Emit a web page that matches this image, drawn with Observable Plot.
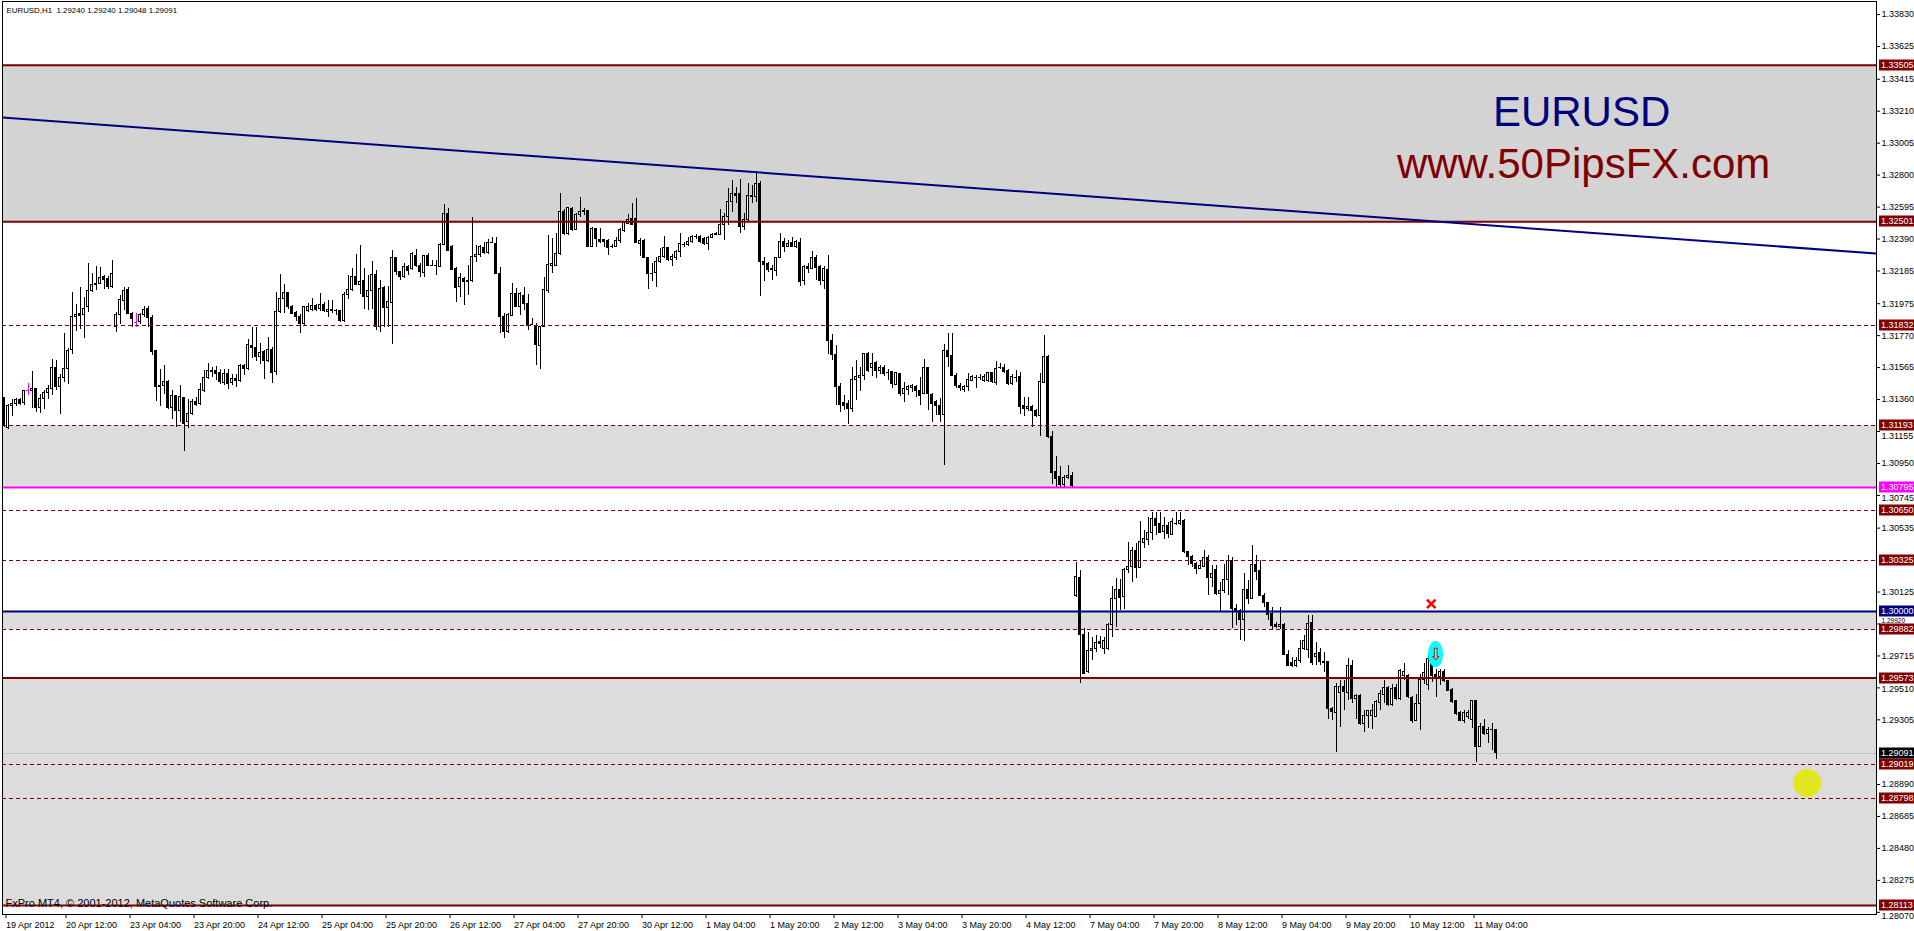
<!DOCTYPE html>
<html><head><meta charset="utf-8">
<script src="https://cdn.jsdelivr.net/npm/d3@7"></script>
<script src="https://cdn.jsdelivr.net/npm/@observablehq/plot@0.6"></script>
<style>html,body{margin:0;padding:0;background:#fff;overflow:hidden}svg{display:block}</style>
</head><body><div id="chart"></div>
<script>
// ---- EURUSD H1 candles (bar index 0 = first visible bar, 19 Apr 2012) ----
const opens = [1.31369,1.31175,1.31316,1.31329,1.31359,1.31335,1.31417,1.31412,1.31427,1.31309,
1.31363,1.31399,1.31427,1.31562,1.31438,1.31498,1.31556,1.31678,1.31887,1.31909,
1.31902,1.31951,1.32054,1.32093,1.32101,1.32144,1.32133,1.32080,1.31823,1.31904,
1.31994,1.32063,1.31909,1.31855,1.31855,1.31904,1.31941,1.31883,1.31669,1.31448,
1.31444,1.31474,1.31303,1.31384,1.31284,1.31369,1.31219,1.31267,1.31346,1.31331,
1.31417,1.31496,1.31545,1.31545,1.31530,1.31466,1.31523,1.31466,1.31491,1.31476,
1.31573,1.31556,1.31706,1.31690,1.31630,1.31663,1.31605,1.31678,1.31534,1.31919,
1.32005,1.32043,1.31956,1.31915,1.31887,1.31844,1.31926,1.31934,1.31962,1.31941,
1.31969,1.31919,1.31934,1.31930,1.31930,1.31862,1.32033,1.32063,1.32148,1.32097,
1.32118,1.32016,1.32058,1.32161,1.31823,1.32073,1.31950,1.31977,1.32268,1.32176,
1.32145,1.32209,1.32198,1.32284,1.32220,1.32170,1.32284,1.32220,1.32220,1.32213,
1.32352,1.32551,1.32342,1.32198,1.32081,1.32134,1.32123,1.32119,1.32273,1.32288,
1.32333,1.32299,1.32365,1.32359,1.32166,1.31892,1.31792,1.31899,1.32038,1.31957,
1.32027,1.31974,1.31839,1.31835,1.31702,1.31824,1.32059,1.32220,1.32220,1.32295,
1.32566,1.32423,1.32583,1.32449,1.32547,1.32562,1.32573,1.32342,1.32455,1.32385,
1.32385,1.32380,1.32342,1.32342,1.32376,1.32444,1.32487,1.32519,1.32519,1.32355,
1.32380,1.32269,1.32170,1.32170,1.32241,1.32273,1.32333,1.32256,1.32269,1.32305,
1.32352,1.32352,1.32369,1.32406,1.32406,1.32391,1.32359,1.32397,1.32419,1.32419,
1.32483,1.32530,1.32626,1.32676,1.32676,1.32470,1.32509,1.32663,1.32658,1.32744,
1.32241,1.32230,1.32192,1.32188,1.32269,1.32374,1.32342,1.32363,1.32337,1.32365,
1.32119,1.32213,1.32198,1.32269,1.32213,1.32123,1.32192,1.31738,1.31648,1.31443,
1.31336,1.31332,1.31300,1.31486,1.31499,1.31509,1.31653,1.31563,1.31593,1.31541,
1.31563,1.31535,1.31535,1.31456,1.31524,1.31396,1.31424,1.31434,1.31443,1.31413,
1.31396,1.31563,1.31392,1.31342,1.31321,1.31263,1.31674,1.31642,1.31509,1.31449,
1.31422,1.31439,1.31482,1.31503,1.31503,1.31482,1.31482,1.31528,1.31464,1.31563,
1.31563,1.31541,1.31460,1.31503,1.31507,1.31321,1.31300,1.31315,1.31289,1.31257,
1.31464,1.31635,1.31122,1.30893,1.30865,1.30814,1.30857,1.30872,1.30102,1.30215,
1.29852,1.29610,1.29745,1.29760,1.29802,1.29760,1.29760,1.29916,1.30081,1.30138,
1.30091,1.30267,1.30288,1.30387,1.30280,1.30438,1.30459,1.30502,1.30594,1.30562,
1.30509,1.30551,1.30494,1.30566,1.30562,1.30579,1.30380,1.30352,1.30305,1.30273,
1.30288,1.30344,1.30215,1.30267,1.30113,1.30134,1.30203,1.30322,1.30016,1.30001,
1.29946,1.30138,1.30081,1.30301,1.30258,1.30102,1.30053,1.29984,1.29916,1.29899,
1.29916,1.29723,1.29668,1.29653,1.29680,1.29760,1.29753,1.29924,1.29706,1.29732,
1.29674,1.29674,1.29374,1.29346,1.29475,1.29513,1.29475,1.29653,1.29438,1.29460,
1.29278,1.29332,1.29332,1.29325,1.29411,1.29466,1.29509,1.29402,1.29509,1.29438,
1.29588,1.29588,1.29445,1.29300,1.29406,1.29560,1.29531,1.29696,1.29595,1.29578,
1.29610,1.29556,1.29496,1.29424,1.29346,1.29300,1.29325,1.29304,1.29424,1.29132,
1.29261,1.29214,1.29240,1.29240];
const highs = [1.31374,1.31331,1.31363,1.31369,1.31369,1.31421,1.31466,1.31538,1.31431,1.31395,
1.31417,1.31448,1.31620,1.31609,1.31523,1.31785,1.31690,1.32048,1.31973,1.32080,
1.32016,1.32234,1.32170,1.32212,1.32208,1.32155,1.32148,1.32251,1.31919,1.32026,
1.32076,1.32080,1.31919,1.31915,1.31913,1.31958,1.31958,1.31898,1.31673,1.31556,
1.31577,1.31481,1.31417,1.31384,1.31453,1.31369,1.31363,1.31363,1.31374,1.31463,
1.31549,1.31592,1.31566,1.31571,1.31556,1.31556,1.31556,1.31523,1.31523,1.31583,
1.31583,1.31748,1.31823,1.31823,1.31722,1.31673,1.31759,1.31695,1.32048,1.32165,
1.32097,1.32048,1.31962,1.31926,1.31904,1.31958,1.31977,1.32011,1.31973,1.32043,
1.31984,1.31994,1.31994,1.31941,1.31934,1.32048,1.32155,1.32204,1.32290,1.32347,
1.32204,1.32155,1.32247,1.32187,1.32123,1.32084,1.32084,1.32315,1.32272,1.32181,
1.32230,1.32220,1.32305,1.32320,1.32235,1.32284,1.32295,1.32252,1.32252,1.32359,
1.32611,1.32584,1.32348,1.32209,1.32166,1.32145,1.32220,1.32526,1.32348,1.32348,
1.32369,1.32384,1.32397,1.32397,1.32209,1.31909,1.31909,1.32106,1.32070,1.32049,
1.32076,1.32034,1.31877,1.31850,1.31828,1.32145,1.32412,1.32391,1.32423,1.32680,
1.32577,1.32594,1.32594,1.32551,1.32654,1.32588,1.32573,1.32461,1.32460,1.32455,
1.32385,1.32385,1.32355,1.32397,1.32455,1.32504,1.32545,1.32620,1.32648,1.32391,
1.32385,1.32273,1.32230,1.32273,1.32327,1.32406,1.32337,1.32290,1.32316,1.32423,
1.32369,1.32397,1.32412,1.32419,1.32412,1.32397,1.32406,1.32427,1.32434,1.32577,
1.32551,1.32712,1.32765,1.32723,1.32770,1.32551,1.32744,1.32733,1.32825,1.32760,
1.32269,1.32241,1.32220,1.32273,1.32427,1.32391,1.32380,1.32397,1.32380,1.32391,
1.32220,1.32230,1.32312,1.32284,1.32220,1.32213,1.32284,1.31777,1.31706,1.31460,
1.31385,1.31357,1.31567,1.31610,1.31563,1.31657,1.31663,1.31657,1.31606,1.31578,
1.31578,1.31550,1.31541,1.31535,1.31528,1.31471,1.31449,1.31456,1.31449,1.31499,
1.31614,1.31567,1.31396,1.31357,1.31364,1.31713,1.31785,1.31785,1.31524,1.31464,
1.31449,1.31524,1.31514,1.31514,1.31520,1.31520,1.31535,1.31535,1.31606,1.31593,
1.31588,1.31556,1.31520,1.31546,1.31535,1.31374,1.31374,1.31321,1.31293,1.31528,
1.31770,1.31642,1.31156,1.30994,1.30929,1.30872,1.30936,1.30893,1.30316,1.30262,
1.29888,1.29867,1.29835,1.29845,1.29839,1.29835,1.29924,1.30160,1.30215,1.30203,
1.30273,1.30444,1.30412,1.30434,1.30579,1.30519,1.30601,1.30637,1.30637,1.30637,
1.30605,1.30573,1.30594,1.30637,1.30637,1.30588,1.30387,1.30359,1.30316,1.30327,
1.30391,1.30359,1.30295,1.30295,1.30188,1.30301,1.30359,1.30348,1.30048,1.30016,
1.30241,1.30198,1.30423,1.30359,1.30327,1.30117,1.30059,1.30027,1.29931,1.30027,
1.29924,1.29753,1.29706,1.29706,1.29817,1.29845,1.29974,1.29974,1.29802,1.29760,
1.29738,1.29674,1.29385,1.29539,1.29560,1.29560,1.29696,1.29685,1.29470,1.29466,
1.29364,1.29368,1.29406,1.29428,1.29496,1.29556,1.29518,1.29530,1.29530,1.29625,
1.29668,1.29599,1.29453,1.29470,1.29599,1.29668,1.29728,1.29781,1.29631,1.29631,
1.29625,1.29560,1.29509,1.29432,1.29359,1.29368,1.29364,1.29428,1.29428,1.29282,
1.29304,1.29257,1.29282,1.29240];
const lows = [1.31181,1.31170,1.31249,1.31314,1.31320,1.31320,1.31389,1.31305,1.31277,1.31271,
1.31299,1.31359,1.31384,1.31417,1.31262,1.31470,1.31459,1.31652,1.31797,1.31812,
1.31752,1.31919,1.32048,1.32058,1.32097,1.32069,1.32069,1.32075,1.31791,1.31844,
1.31930,1.31904,1.31823,1.31823,1.31844,1.31887,1.31823,1.31641,1.31348,1.31314,
1.31395,1.31299,1.31235,1.31181,1.31213,1.31027,1.31177,1.31256,1.31314,1.31320,
1.31406,1.31491,1.31502,1.31481,1.31459,1.31448,1.31427,1.31448,1.31438,1.31470,
1.31513,1.31545,1.31626,1.31605,1.31583,1.31491,1.31598,1.31463,1.31513,1.31909,
1.31909,1.31941,1.31904,1.31862,1.31785,1.31834,1.31917,1.31926,1.31926,1.31926,
1.31919,1.31887,1.31913,1.31898,1.31855,1.31855,1.32005,1.32054,1.32091,1.32037,
1.31941,1.31934,1.31941,1.31802,1.31791,1.31823,1.31823,1.31716,1.32155,1.32127,
1.32134,1.32155,1.32188,1.32205,1.32145,1.32145,1.32213,1.32213,1.32155,1.32205,
1.32348,1.32312,1.32188,1.31984,1.32016,1.31963,1.32027,1.32113,1.32241,1.32273,
1.32290,1.32290,1.32359,1.32162,1.31785,1.31749,1.31785,1.31892,1.31952,1.31899,
1.31931,1.31802,1.31835,1.31578,1.31556,1.31820,1.32042,1.32166,1.32220,1.32284,
1.32412,1.32412,1.32440,1.32444,1.32530,1.32541,1.32337,1.32337,1.32337,1.32359,
1.32337,1.32284,1.32327,1.32333,1.32363,1.32434,1.32483,1.32477,1.32359,1.32278,
1.32263,1.32063,1.32119,1.32076,1.32235,1.32263,1.32248,1.32213,1.32252,1.32273,
1.32337,1.32342,1.32363,1.32385,1.32359,1.32348,1.32316,1.32391,1.32412,1.32412,
1.32380,1.32477,1.32562,1.32616,1.32423,1.32444,1.32504,1.32620,1.32626,1.32021,
1.32119,1.32177,1.32123,1.32149,1.32263,1.32305,1.32337,1.32333,1.32327,1.32085,
1.32091,1.32170,1.32192,1.32123,1.32091,1.32063,1.31648,1.31610,1.31321,1.31278,
1.31289,1.31199,1.31278,1.31353,1.31413,1.31482,1.31535,1.31507,1.31496,1.31520,
1.31507,1.31482,1.31434,1.31449,1.31379,1.31342,1.31385,1.31407,1.31370,1.31321,
1.31392,1.31289,1.31214,1.31257,1.31214,1.30936,1.31567,1.31507,1.31428,1.31413,
1.31407,1.31413,1.31477,1.31428,1.31482,1.31471,1.31471,1.31460,1.31449,1.31550,
1.31524,1.31449,1.31449,1.31471,1.31263,1.31250,1.31285,1.31182,1.31246,1.31122,
1.31460,1.31113,1.30812,1.30797,1.30792,1.30797,1.30844,1.30792,1.30091,1.29535,
1.29595,1.29603,1.29685,1.29738,1.29760,1.29723,1.29753,1.29834,1.29899,1.30006,
1.30016,1.30245,1.30188,1.30209,1.30273,1.30402,1.30423,1.30455,1.30487,1.30498,
1.30459,1.30466,1.30487,1.30551,1.30551,1.30374,1.30295,1.30280,1.30237,1.30267,
1.30280,1.30102,1.30155,1.30102,1.30002,1.30113,1.30102,1.29888,1.29909,1.29817,
1.29809,1.30044,1.30074,1.30198,1.30096,1.30027,1.29942,1.29877,1.29888,1.29882,
1.29717,1.29646,1.29642,1.29638,1.29668,1.29749,1.29696,1.29653,1.29653,1.29653,
1.29610,1.29310,1.29299,1.29096,1.29257,1.29364,1.29428,1.29411,1.29310,1.29268,
1.29225,1.29252,1.29240,1.29317,1.29364,1.29411,1.29389,1.29389,1.29432,1.29432,
1.29556,1.29445,1.29282,1.29295,1.29235,1.29531,1.29492,1.29546,1.29449,1.29524,
1.29546,1.29488,1.29411,1.29332,1.29295,1.29282,1.29304,1.29252,1.29032,1.29128,
1.29203,1.29150,1.29111,1.29048];
const closes = [1.31192,1.31320,1.31331,1.31359,1.31331,1.31417,1.31417,1.31427,1.31309,1.31363,
1.31401,1.31427,1.31562,1.31442,1.31498,1.31556,1.31673,1.31891,1.31904,1.31894,
1.31941,1.32058,1.32095,1.32101,1.32140,1.32129,1.32080,1.32165,1.31904,1.31998,
1.32058,1.31909,1.31877,1.31855,1.31904,1.31936,1.31883,1.31663,1.31438,1.31438,
1.31474,1.31303,1.31384,1.31284,1.31378,1.31202,1.31267,1.31346,1.31327,1.31421,
1.31498,1.31541,1.31534,1.31523,1.31470,1.31523,1.31463,1.31491,1.31476,1.31577,
1.31556,1.31712,1.31690,1.31630,1.31658,1.31605,1.31678,1.31530,1.31919,1.32005,
1.32043,1.31951,1.31909,1.31887,1.31844,1.31951,1.31951,1.31962,1.31934,1.31969,
1.31926,1.31934,1.31926,1.31926,1.31866,1.32033,1.32063,1.32148,1.32097,1.32112,
1.32016,1.32058,1.32161,1.31823,1.32069,1.31950,1.31984,1.32268,1.32176,1.32145,
1.32213,1.32183,1.32295,1.32220,1.32177,1.32284,1.32220,1.32220,1.32220,1.32352,
1.32551,1.32316,1.32194,1.32076,1.32140,1.32113,1.32113,1.32273,1.32288,1.32337,
1.32299,1.32365,1.32365,1.32166,1.31888,1.31792,1.31905,1.32038,1.31957,1.32038,
1.31974,1.31835,1.31839,1.31710,1.31824,1.32063,1.32224,1.32230,1.32295,1.32566,
1.32423,1.32588,1.32449,1.32547,1.32562,1.32573,1.32342,1.32455,1.32391,1.32370,
1.32370,1.32333,1.32342,1.32380,1.32449,1.32491,1.32509,1.32483,1.32363,1.32380,
1.32269,1.32166,1.32170,1.32241,1.32273,1.32333,1.32256,1.32273,1.32305,1.32359,
1.32352,1.32369,1.32402,1.32406,1.32369,1.32359,1.32397,1.32419,1.32423,1.32483,
1.32534,1.32626,1.32676,1.32668,1.32470,1.32513,1.32663,1.32658,1.32744,1.32241,
1.32226,1.32192,1.32198,1.32269,1.32374,1.32342,1.32359,1.32337,1.32369,1.32113,
1.32213,1.32198,1.32269,1.32205,1.32123,1.32198,1.31734,1.31648,1.31439,1.31327,
1.31321,1.31300,1.31486,1.31503,1.31514,1.31653,1.31546,1.31588,1.31541,1.31563,
1.31524,1.31535,1.31460,1.31528,1.31396,1.31428,1.31439,1.31449,1.31413,1.31385,
1.31563,1.31396,1.31332,1.31321,1.31263,1.31674,1.31635,1.31509,1.31449,1.31434,
1.31443,1.31486,1.31507,1.31503,1.31503,1.31507,1.31528,1.31471,1.31556,1.31563,
1.31535,1.31460,1.31507,1.31503,1.31315,1.31300,1.31315,1.31285,1.31257,1.31471,
1.31635,1.31118,1.30887,1.30850,1.30814,1.30857,1.30872,1.30807,1.30220,1.29852,
1.29599,1.29749,1.29760,1.29798,1.29792,1.29809,1.29916,1.30081,1.30138,1.30087,
1.30267,1.30288,1.30387,1.30280,1.30444,1.30466,1.30502,1.30594,1.30551,1.30502,
1.30551,1.30498,1.30573,1.30566,1.30579,1.30380,1.30352,1.30305,1.30273,1.30295,
1.30344,1.30215,1.30241,1.30113,1.30134,1.30203,1.30322,1.30016,1.30001,1.29946,
1.30138,1.30081,1.30301,1.30252,1.30102,1.30053,1.29980,1.29909,1.29899,1.29916,
1.29723,1.29653,1.29653,1.29685,1.29760,1.29809,1.29920,1.29668,1.29727,1.29674,
1.29668,1.29374,1.29353,1.29513,1.29513,1.29481,1.29653,1.29438,1.29460,1.29278,
1.29332,1.29359,1.29359,1.29417,1.29470,1.29509,1.29402,1.29503,1.29438,1.29616,
1.29610,1.29449,1.29300,1.29406,1.29560,1.29603,1.29696,1.29588,1.29578,1.29610,
1.29556,1.29492,1.29417,1.29342,1.29300,1.29346,1.29346,1.29424,1.29132,1.29261,
1.29214,1.29240,1.29240,1.29091];
const highlightBars = [6, 33];

// ---- time axis (bar index -> label) ----
const timeTicks = [0,15,31,47,63,79,95,111,127,143,159,175,191,207,223,239,255,271,287,303,319,335,351,367];
const timeLabels = ["19 Apr 2012","20 Apr 12:00","23 Apr 04:00","23 Apr 20:00","24 Apr 12:00","25 Apr 04:00","25 Apr 20:00","26 Apr 12:00","27 Apr 04:00","27 Apr 20:00","30 Apr 12:00","1 May 04:00","1 May 20:00","2 May 12:00","3 May 04:00","3 May 20:00","4 May 12:00","7 May 04:00","7 May 20:00","8 May 12:00","9 May 04:00","9 May 20:00","10 May 12:00","11 May 04:00"];

// ---- price axis ----
const priceTicks = [1.33830,1.33625,1.33415,1.33210,1.33005,1.32800,1.32595,1.32390,1.32185,1.31975,1.31770,1.31565,1.31360,1.31155,1.30950,1.30745,1.30535,1.30125,1.29920,1.29715,1.29510,1.29305,1.28890,1.28685,1.28480,1.28275,1.28070];

// ---- drawn objects ----
const zoneTops = [1.33505, 1.31193, 1.30000, 1.29573];
const zoneBottoms = [1.32501, 1.30795, 1.29882, 1.28113];
const solidLevels = [1.33505, 1.32501, 1.29573, 1.28113];
const dashedLevels = [1.31832, 1.31193, 1.30650, 1.30325, 1.29882, 1.29019, 1.28798];
const pivotLevels = [1.30795];
const roundLevels = [1.30000];
const bidPrice = 1.29091;
const trendBars = [-0.375, 468.125];
const trendPrices = [1.33169, 1.32297];
const headerText = "EURUSD,H1  1.29240 1.29240 1.29048 1.29091";
const footerText = "FxPro MT4, \u00a9 2001-2012, MetaQuotes Software Corp.";
const titleTexts = ["EURUSD", "www.50PipsFX.com"];
const titleBars = [394.4, 394.9];
const titlePrices = [1.33201, 1.32871];
const crossMark = {bar: 356.8, price: 1.30049};
const arrowMark = {bar: 358, price: 1.29724, bar1: 356.1, bar2: 359.9, top: 1.29807, bottom: 1.29641};
const yellowDot = {bar: 450.8, price: 1.28899};

// ---- build ----
const bars = opens.map((o, i) => ({i, o, h: highs[i], l: lows[i], c: closes[i], hi: highlightBars.includes(i)}));
const bodies = bars.filter(d => d.o !== d.c);
const dojis = bars.filter(d => d.o === d.c);
const xLabel = new Map(timeTicks.map((b, k) => [b, timeLabels[k]]));
const zones = zoneTops.map((t, k) => ({t, b: zoneBottoms[k], k}));
const trend = trendBars.map((b, k) => ({b, p: trendPrices[k]}));
const titles = titleTexts.map((t, k) => ({t, b: titleBars[k], p: titlePrices[k], k}));
const ink = d => d.hi ? "#ff00ff" : "black";
const FONT = "'Liberation Sans', Arial, sans-serif";

const plot = Plot.plot({
  width: 1914, height: 931,
  marginLeft: 2, marginRight: 38, marginTop: 1, marginBottom: 17,
  style: {fontFamily: FONT, fontSize: "9px", background: "white", color: "black", overflow: "visible"},
  x: {type: "linear", domain: [-0.375, 468.125], axis: null},
  y: {type: "linear", domain: [1.28056, 1.33914], axis: null},
  marks: [
    Plot.rect(zones, {y1: "t", y2: "b", fill: d => d.k === 0 ? "#d3d3d3" : "#dcdcdc"}),
    Plot.ruleY([bidPrice], {stroke: "#c0c0c0", shapeRendering: "crispEdges"}),
    Plot.ruleX(bars, {x: "i", y1: "l", y2: "h", stroke: ink, shapeRendering: "crispEdges"}),
    Plot.rect(bodies, {x1: d => d.i - 0.25, x2: d => d.i + 0.25, y1: "o", y2: "c",
      fill: d => d.hi ? "#ff00ff" : (d.c > d.o ? "white" : "black"), stroke: ink, shapeRendering: "crispEdges"}),
    Plot.ruleY(dojis, {y: "o", x1: d => d.i - 0.375, x2: d => d.i + 0.375, stroke: ink, shapeRendering: "crispEdges"}),
    Plot.ruleY(dashedLevels, {stroke: "#800000", strokeDasharray: "4,3", shapeRendering: "crispEdges"}),
    Plot.ruleY(solidLevels, {stroke: "#800000", strokeWidth: 2}),
    Plot.ruleY(pivotLevels, {stroke: "#ff00ff", strokeWidth: 2}),
    Plot.ruleY(roundLevels, {stroke: "#000080", strokeWidth: 2}),
    Plot.line(trend, {x: "b", y: "p", stroke: "#000080", strokeWidth: 2, clip: true}),
    Plot.rect([arrowMark], {x1: "bar1", x2: "bar2", y1: "top", y2: "bottom", fill: "#00ffff", rx: 7.5, ry: 13}),
    Plot.text([arrowMark], {x: "bar", y: "price", text: () => "\u21e9", fill: "red", fontSize: 17, fontFamily: "DejaVu Sans"}),
    Plot.dot([crossMark], {x: "bar", y: "price", symbol: "times", r: 4, stroke: "red", strokeWidth: 2.5}),
    Plot.dot([yellowDot], {x: "bar", y: "price", r: 14, fill: "#e1e61e"}),
    Plot.text(titles, {x: "b", y: "p", text: "t", fill: d => d.k === 0 ? "#000080" : "#800000", fontSize: 42, textAnchor: "middle", lineAnchor: "middle"}),
    Plot.text([headerText], {text: d => d, frameAnchor: "top-left", dx: 4, dy: 6, textAnchor: "start", lineAnchor: "top", fontSize: 7.9}),
    Plot.text([footerText], {text: d => d, frameAnchor: "bottom-left", dx: 3, dy: -8, textAnchor: "start", lineAnchor: "bottom", fontSize: 11}),
    Plot.frame({stroke: "black", shapeRendering: "crispEdges"}),
    Plot.axisY({anchor: "right", ticks: priceTicks, tickFormat: d => d.toFixed(5), tickSize: 3, tickPadding: 2, fontSize: 9, label: null}),
    Plot.axisX({anchor: "bottom", ticks: timeTicks, tickFormat: d => xLabel.get(d), tickSize: 4, tickPadding: 3, textAnchor: "start", dx: 2, fontSize: 9, label: null})
  ]
});

// price tags on the right axis, positioned with the plot's own y scale
const yS = plot.scale("y");
const tags = [
  ...solidLevels.map(p => ({p, c: "#800000"})),
  ...dashedLevels.map(p => ({p, c: "#800000"})),
  ...pivotLevels.map(p => ({p, c: "#ff00ff"})),
  ...roundLevels.map(p => ({p, c: "#000080"})),
  {p: bidPrice, c: "black"}
];
const tagYs = tags.map(t => Math.round(yS.apply(t.p)));

// keep the axis labels clear of the price tags (as the terminal does)
const GAP = 10.5;
d3.select(plot).selectAll('g[aria-label="y-axis tick label"] text').each(function() {
  const v = +this.textContent;
  let yy = yS.apply(v);
  const near = tagYs.filter(ty => Math.abs(yy - ty) < GAP);
  if (near.length) {
    const ty = near[0];
    yy = ty + (yy >= ty ? GAP : -GAP);
    const clash = tagYs.some(t2 => Math.abs(yy - t2) < GAP - 0.01);
    if (clash) {
      const lo = Math.max(...tagYs.filter(t2 => t2 < yS.apply(v)));
      const hi = Math.min(...tagYs.filter(t2 => t2 > yS.apply(v)));
      yy = (lo + hi) / 2;
      this.setAttribute("font-size", 6.5);
    }
    const m = /translate\(([^,]+),/.exec(this.getAttribute("transform") || "");
    if (m) this.setAttribute("transform", `translate(${m[1]},${yy})`);
    else this.setAttribute("y", yy);
  }
});

const g = d3.select(plot).append("g").attr("font-size", 9).attr("font-family", FONT).attr("text-anchor", "start");
tags.forEach((t, k) => {
  const yy = tagYs[k];
  g.append("rect").attr("x", 1879).attr("y", yy - 5.5).attr("width", 36).attr("height", 11).attr("fill", t.c);
  g.append("text").attr("x", 1881).attr("y", yy).attr("dy", "0.34em").attr("fill", "white").text(t.p.toFixed(5));
});
document.getElementById("chart").append(plot);
</script></body></html>
